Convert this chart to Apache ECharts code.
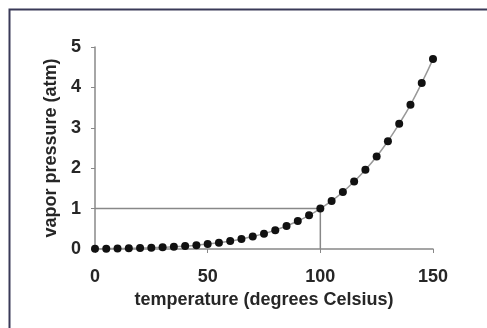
<!DOCTYPE html>
<html><head><meta charset="utf-8">
<script src="https://cdn.jsdelivr.net/npm/echarts@6/dist/echarts.min.js"></script>
<style>html,body{margin:0;padding:0;background:#fff;}#c{width:487px;height:328px;}</style>
</head><body><div id="c"></div>
<script>
var temperatures = [0,5,10,15,20,25,30,35,40,45,50,55,60,65,70,75,80,85,90,95,100,105,110,115,120,125,130,135,140,145,150];
var pressures = [0.006,0.009,0.012,0.017,0.023,0.031,0.042,0.055,0.073,0.095,0.122,0.155,0.197,0.247,0.308,0.380,0.467,0.571,0.692,0.834,1.0,1.19,1.41,1.67,1.96,2.29,2.67,3.10,3.57,4.11,4.70];
var refLineX = [0,100,100];
var refLineY = [1,1,0];
var xTicks = [0,50,100,150];
var yTicks = [0,1,2,3,4,5];

var curve = temperatures.map(function(t,i){return [t,pressures[i]];});
var ref = refLineX.map(function(x,i){return [x,refLineY[i]];});
var font = {fontFamily:'Liberation Sans, Arial, sans-serif', fontWeight:'bold', fontSize:18, color:'#262626'};
var chart = echarts.init(document.getElementById('c'));
chart.setOption({
  animation:false,
  backgroundColor:'#fff',
  grid:{left:95,right:54,top:47,bottom:79,containLabel:false},
  graphic:[{type:'rect',shape:{x:9.5,y:9.5,width:490,height:330},style:{fill:'none',stroke:'#3a3a58',lineWidth:2}}],
  xAxis:{type:'value',min:0,max:150,interval:50,
    name:'temperature (degrees Celsius)',nameLocation:'middle',nameGap:42,nameTextStyle:font,
    axisLine:{show:true,lineStyle:{color:'#888',width:1.5}},
    axisTick:{show:true,length:4,lineStyle:{color:'#888'}},
    axisLabel:Object.assign({margin:19},font),
    splitLine:{show:false}},
  yAxis:{type:'value',min:0,max:5,interval:1,
    name:'vapor pressure (atm)',nameLocation:'middle',nameGap:30,nameTextStyle:font,
    axisLine:{show:true,lineStyle:{color:'#888',width:1.5}},
    axisTick:{show:true,length:4,lineStyle:{color:'#888'}},
    axisLabel:Object.assign({margin:14},font),
    splitLine:{show:false}},
  series:[
    {type:'line',data:ref,showSymbol:false,symbol:'none',lineStyle:{color:'#888',width:1.5},z:1},
    {type:'line',data:curve,smooth:true,symbol:'circle',symbolSize:8,
     itemStyle:{color:'#111'},lineStyle:{color:'#999',width:1.5},z:2}
  ]
});
</script></body></html>
